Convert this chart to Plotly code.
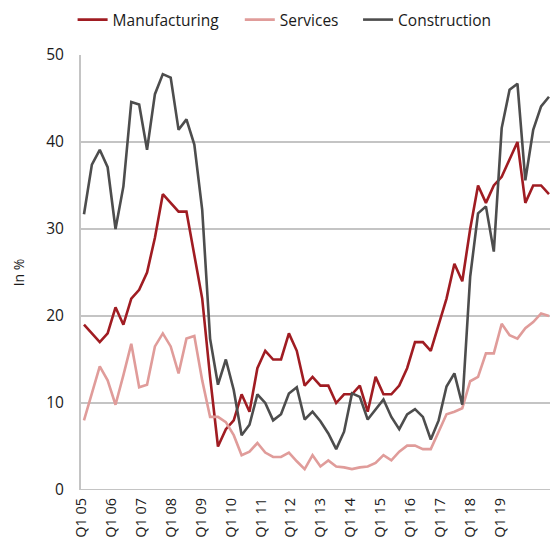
"""Share of firms (in %) by sector, quarterly 2005-2019."""

import plotly.graph_objects as go

# quarterly observations, Q1 2005 .. Q4 2019
QUARTERS = [f"Q{q} {y % 100:02d}" for y in range(2005, 2020) for q in range(1, 5)]

MANUFACTURING = [
    19, 18, 17, 18, 21, 19, 22, 23, 25, 29, 34, 33, 32, 32, 27,
    22, 13, 5, 7, 8, 11, 9, 14, 16, 15, 15, 18, 16, 12, 13,
    12, 12, 10, 11, 11, 12, 9, 13, 11, 11, 12, 14, 17, 17, 16,
    19, 22, 26, 24, 30, 35, 33, 35, 36, 38, 40, 33, 35, 35, 34,
]
SERVICES = [
    8.0, 11.1, 14.2, 12.6, 9.8, 13.2, 16.8, 11.8, 12.1, 16.5, 18.0, 16.5, 13.4, 17.4, 17.7,
    12.6, 8.4, 8.4, 7.8, 6.3, 4.0, 4.4, 5.4, 4.3, 3.8, 3.8, 4.3, 3.3, 2.4, 4.0,
    2.7, 3.4, 2.7, 2.6, 2.4, 2.6, 2.7, 3.1, 4.0, 3.4, 4.4, 5.1, 5.1, 4.7, 4.7,
    6.7, 8.7, 9.0, 9.4, 12.5, 13.0, 15.7, 15.7, 19.1, 17.8, 17.4, 18.6, 19.3, 20.3, 20.0,
]
CONSTRUCTION = [
    31.7, 37.4, 39.1, 37.1, 30.0, 34.9, 44.6, 44.3, 39.1, 45.5, 47.8, 47.4, 41.4, 42.6, 39.7,
    32.2, 17.4, 12.1, 15.0, 11.5, 6.3, 7.5, 11.0, 10.0, 8.0, 8.7, 11.1, 11.8, 8.1, 9.0,
    7.9, 6.5, 4.7, 6.7, 11.1, 10.7, 8.1, 9.3, 10.4, 8.4, 7.0, 8.7, 9.3, 8.4, 5.8,
    8.0, 11.9, 13.4, 9.8, 24.5, 31.8, 32.6, 27.4, 41.6, 46.0, 46.7, 35.6, 41.4, 44.1, 45.2,
]

TICK_TEXT = [f"Q1 {y % 100:02d}" for y in range(2005, 2020)]
Y_TICKS = [0, 10, 20, 30, 40, 50]

FONT = "Open Sans, Noto Sans, sans-serif"
TEXT_COLOR = "#1a1a1a"
GRID_COLOR = "#c4c4c4"

# name, values, colour, legend id, legend left edge (fraction of width)
series = [
    ("Manufacturing", MANUFACTURING, "#a01c22", "legend", 0.132),
    ("Services", SERVICES, "#e09c9a", "legend2", 0.436),
    ("Construction", CONSTRUCTION, "#4d4d4d", "legend3", 0.651),
]

x = list(range(len(QUARTERS)))

fig = go.Figure()
for name, values, color, legend_id, _ in series:
    fig.add_trace(
        go.Scatter(
            x=x,
            y=values,
            name=name,
            mode="lines",
            line=dict(color=color, width=2.6),
            legend=legend_id,
            text=QUARTERS,
            hovertemplate="%{text}: %{y}<extra>" + name + "</extra>",
        )
    )

# one legend per series so the entries can be spaced like the source
legend_style = dict(
    orientation="h",
    xref="container",
    yref="container",
    xanchor="left",
    y=0.963,
    yanchor="middle",
    font=dict(size=15.5),
    itemwidth=30,
    bgcolor="rgba(0,0,0,0)",
)
legends = {lid: dict(legend_style, x=lx) for _, _, _, lid, lx in series}

# labels in the source sit a little tighter than one per four quarters
tick_pos = [k * 3.79 - 0.3 for k in range(len(TICK_TEXT))]

fig.update_layout(
    width=550,
    height=541,
    margin=dict(l=81, r=0, t=55, b=51, autoexpand=False),
    paper_bgcolor="white",
    plot_bgcolor="white",
    font=dict(family=FONT, size=14, color=TEXT_COLOR),
    showlegend=True,
    **legends,
    xaxis=dict(
        range=[-0.38, 59.13],
        tickvals=tick_pos,
        ticktext=TICK_TEXT,
        tickangle=-90,
        showgrid=False,
        zeroline=False,
        showline=False,
        ticks="",
        automargin=False,
        ticklabelstandoff=4,
        tickfont=dict(size=14.5),
    ),
    yaxis=dict(
        range=[0, 50],
        tickvals=Y_TICKS,
        showgrid=True,
        gridcolor=GRID_COLOR,
        gridwidth=1.5,
        zeroline=False,
        showline=True,
        linecolor=GRID_COLOR,
        linewidth=2,
        ticks="",
        automargin=False,
        ticklabelstandoff=12,
        tickfont=dict(size=15.5),
        title=dict(text="In %", font=dict(size=14), standoff=18),
    ),
)

# bottom axis line at zero
fig.add_shape(
    type="line", xref="paper", yref="y", x0=0, x1=1, y0=0, y1=0,
    line=dict(color=GRID_COLOR, width=2),
)

# drop the browser's default page margin so the figure sits at the origin
fig.write_html(
    "out.html",
    config={"displayModeBar": False},
    post_script="document.body.style.margin = '0';",
)
